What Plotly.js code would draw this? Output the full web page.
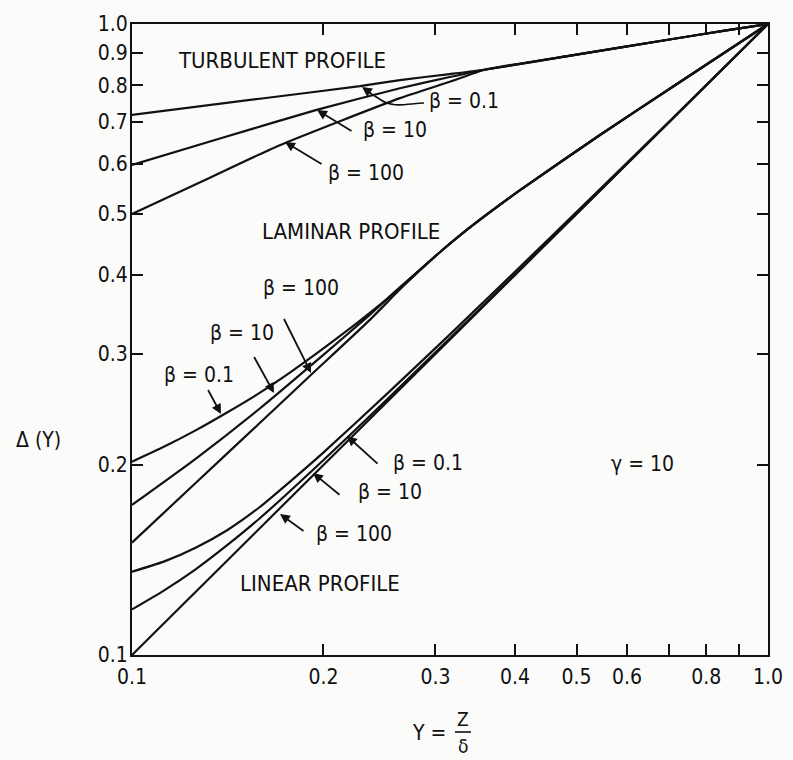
<!DOCTYPE html>
<html>
<head>
<meta charset="utf-8">
<script src="https://cdn.plot.ly/plotly-3.0.1.min.js"></script>
<style>
  html, body { margin: 0; padding: 0; background: #fbfbf9; }
  #chart { width: 793px; height: 760px; }
</style>
</head>
<body>
<div id="chart"></div>
<script>
// Δ(Y) versus Y = Z/δ for three velocity profiles, γ = 10, β = 0.1 / 10 / 100

// Turbulent profile
const turbB01X  = [0.1, 0.16, 0.2283, 0.2638, 0.316, 0.36, 0.5, 0.7, 0.85, 1.0];
const turbB01Y  = [0.718, 0.762, 0.797, 0.815, 0.833, 0.847, 0.894, 0.945, 0.975, 1.0];
const turbB10X  = [0.1, 0.14, 0.1951, 0.2638, 0.316, 0.36, 0.5, 0.7, 0.85, 1.0];
const turbB10Y  = [0.598, 0.662, 0.731, 0.791, 0.824, 0.847, 0.894, 0.945, 0.975, 1.0];
const turbB100X = [0.1, 0.13, 0.17, 0.2638, 0.316, 0.36, 0.5, 0.7, 0.85, 1.0];
const turbB100Y = [0.5, 0.5655, 0.6415, 0.763, 0.810, 0.847, 0.894, 0.945, 0.975, 1.0];

// Laminar profile
const lamB01X  = [0.1, 0.1122, 0.1259, 0.1413, 0.1585, 0.1778, 0.1995, 0.2239, 0.2512, 0.2818,
                  0.3064, 0.3399, 0.4075, 0.5442, 0.7271, 1.0];
const lamB01Y  = [0.2025, 0.2138, 0.2270, 0.2425, 0.2600, 0.2810, 0.3055, 0.3335, 0.3660, 0.4055,
                  0.4368, 0.476, 0.5453, 0.6669, 0.8092, 1.0];
const lamB10X  = [0.1, 0.1259, 0.1585, 0.1995, 0.235, 0.262, 0.2818,
                  0.3064, 0.3399, 0.4075, 0.5442, 0.7271, 1.0];
const lamB10Y  = [0.1729, 0.2046, 0.2454, 0.2984, 0.344, 0.3800, 0.4055,
                  0.4368, 0.476, 0.5453, 0.6669, 0.8092, 1.0];
const lamB100X = [0.1, 0.1259, 0.1585, 0.1909, 0.235, 0.262, 0.2818,
                  0.3064, 0.3399, 0.4075, 0.5442, 0.7271, 1.0];
const lamB100Y = [0.1507, 0.1873, 0.2327, 0.2775, 0.3375, 0.3770, 0.4045,
                  0.4368, 0.476, 0.5453, 0.6669, 0.8092, 1.0];

// Linear profile
const linB01X  = [0.1, 0.1122, 0.1259, 0.1413, 0.1585, 0.1778, 0.1995, 0.2512, 0.3162, 0.4467, 0.7, 1.0];
const linB01Y  = [0.1355, 0.1406, 0.1479, 0.1578, 0.1713, 0.1888, 0.2089, 0.2588, 0.3222, 0.4509, 0.701, 1.0];
const linB10X  = [0.1, 0.1122, 0.1259, 0.1413, 0.1585, 0.1995, 0.2512, 0.3981, 0.7, 1.0];
const linB10Y  = [0.1181, 0.1265, 0.1367, 0.1494, 0.1644, 0.2032, 0.2535, 0.399, 0.7, 1.0];
const linB100X = [0.1, 0.2, 0.4, 0.7, 1.0];
const linB100Y = [0.1, 0.2, 0.4, 0.7, 1.0];

const tickVals  = [0.1, 0.2, 0.3, 0.4, 0.5, 0.6, 0.7, 0.8, 0.9, 1.0];
const xTickText = ['0.1', '0.2', '0.3', '0.4', '0.5', '0.6', '', '0.8', '', '1.0'];
const yTickText = ['0.1', '0.2', '0.3', '0.4', '0.5', '0.6', '0.7', '0.8', '0.9', '1.0'];

// plot box in page pixels
const L = 132, T = 24, W = 636, H = 631;
const px = X => (X - L) / W;
const py = Y => (T + H - Y) / H;

const FONT = '"Liberation Sans Narrow", "DejaVu Sans Condensed", "Liberation Sans", sans-serif';
const INK = '#111';

const curves = [
  [turbB01X, turbB01Y], [turbB10X, turbB10Y], [turbB100X, turbB100Y],
  [lamB01X, lamB01Y], [lamB10X, lamB10Y], [lamB100X, lamB100Y],
  [linB01X, linB01Y], [linB10X, linB10Y], [linB100X, linB100Y]
];
const traces = curves.map(([x, y]) => ({
  x, y, type: 'scatter', mode: 'lines', hoverinfo: 'skip',
  line: { color: INK, width: 2.2, shape: 'spline', smoothing: 0.5 }
}));

function label(text, X, Y, size) {
  return { text, xref: 'paper', yref: 'paper', x: px(X), y: py(Y),
    xanchor: 'center', yanchor: 'middle', showarrow: false,
    font: { family: FONT, size: size || 21, color: INK } };
}
function pointer(tailX, tailY, tipX, tipY) {
  return { text: ' ', xref: 'paper', yref: 'paper', x: px(tipX), y: py(tipY),
    axref: 'pixel', ayref: 'pixel', ax: tailX - tipX, ay: tailY - tipY,
    showarrow: true, arrowhead: 2, arrowsize: 1.1, arrowwidth: 1.8,
    arrowcolor: INK, standoff: 0, startstandoff: 0, font: { size: 1 } };
}

const annotations = [
  label('TURBULENT PROFILE', 282, 60, 22),
  label('β = 0.1', 464, 101),
  label('β = 10', 395, 130),
  label('β = 100', 366, 173),
  pointer(353, 132, 317, 110),
  pointer(323, 165, 285, 142),
  pointer(372, 94, 362, 87),

  label('LAMINAR PROFILE', 351, 232, 22),
  label('β = 100', 301, 288),
  label('β = 10', 242, 333),
  label('β = 0.1', 199, 375),
  pointer(283, 317, 311, 373),
  pointer(253, 355, 274, 393),
  pointer(207, 388, 221, 414),

  label('β = 0.1', 428, 463),
  label('β = 10', 390, 492),
  label('β = 100', 354, 534),
  pointer(379, 465, 347, 436),
  pointer(341, 496, 313, 473),
  pointer(305, 532, 280, 514),
  label('γ = 10', 642, 464),
  label('LINEAR PROFILE', 320, 583, 22),

  // axis titles
  label('Δ (Y)', 38, 440, 21),
  label('Y =', 429, 733, 21),
  label('Z', 463, 719, 19),
  label('δ', 463, 746, 19)
];

const shapes = [
  // curved leader for the turbulent β = 0.1 label
  { type: 'path', xref: 'paper', yref: 'paper',
    path: `M ${px(424)},${py(103)} C ${px(405)},${py(104)} ${px(393)},${py(108)} ${px(381)},${py(100)} L ${px(370)},${py(93)}`,
    line: { color: INK, width: 1.6 } },
  // fraction bar of the x title
  { type: 'line', xref: 'paper', yref: 'paper',
    x0: px(455), x1: px(471), y0: py(732), y1: py(732),
    line: { color: INK, width: 1.6 } }
];

const axisCommon = {
  type: 'log', range: [-1, 0], tickvals: tickVals,
  ticks: 'inside', ticklen: 11, tickwidth: 2, tickcolor: INK,
  showline: true, linewidth: 2, linecolor: INK, mirror: 'ticks',
  showgrid: false, zeroline: false,
  tickfont: { family: FONT, size: 21, color: INK }
};

const layout = {
  width: 793, height: 760,
  margin: { l: L, r: 793 - L - W, t: T, b: 760 - T - H },
  paper_bgcolor: '#fbfbf9', plot_bgcolor: '#fbfbf9',
  showlegend: false,
  xaxis: Object.assign({}, axisCommon, { ticktext: xTickText, ticklabelstandoff: 2 }),
  yaxis: Object.assign({}, axisCommon, { ticktext: yTickText, ticklabelstandoff: -2 }),
  annotations, shapes
};

Plotly.newPlot('chart', traces, layout, { staticPlot: true });
</script>
</body>
</html>
